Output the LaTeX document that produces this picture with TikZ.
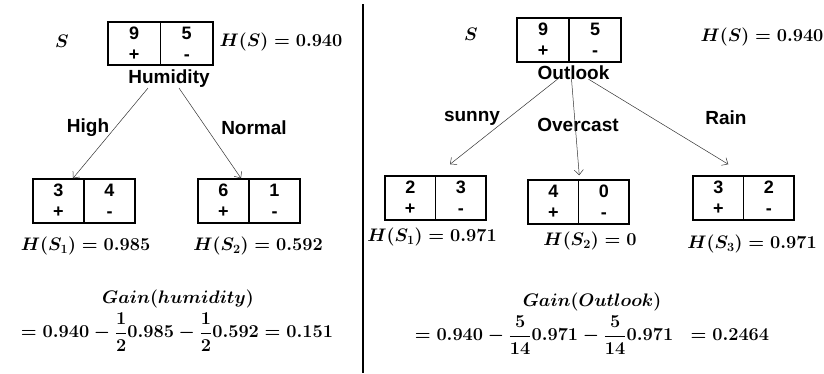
\documentclass[tikz,border=0pt]{standalone}
\usepackage{fontspec}
\usepackage{amsmath}
\usepackage{graphicx}
\newfontfamily\arialf{Liberation Sans}
\newcommand\mth[1]{\scalebox{1.05}{$#1$}}
\usetikzlibrary{arrows.meta}
\tikzset{
  cell/.style={draw, line width=1.5pt, minimum width=51pt, minimum height=44pt, inner sep=0pt, align=center,
    font=\arialf\bfseries\fontsize{18}{21}\selectfont},
  lab/.style={inner sep=0pt, font=\arialf\bfseries\fontsize{19}{21}\selectfont},
  eq/.style={inner sep=0pt, font=\fontsize{17.28}{21}\selectfont\boldmath},
  arr/.style={-{Straight Barb[length=5pt,width=9pt]}, line width=0.5pt, draw=black!80},
  sep/.style={line width=2pt}
}
\begin{document}
\begin{tikzpicture}[x=1pt,y=-1pt]
\useasboundingbox (0,0) rectangle (824,373);
% ---------- left panel ----------
\node[eq] (lS) at (62,41) {\mth{S}};
\node[cell, minimum width=52.5pt, minimum height=43pt] (l0p) at (134.25,43.5) {9\\+};
\node[cell, minimum width=52.5pt, minimum height=43pt] (l0m) at (186.75,43.5) {5\\-};
\node[eq] (lHS) at (281,42) {\mth{H(S)=0.940}};
\node[lab] (hum) at (169,79) {Humidity};
\node[cell] (l1p) at (58.5,201) {3\\+};
\node[cell] (l1m) at (109.5,201) {4\\-};
\node[cell] (l2p) at (223.5,201) {6\\+};
\node[cell] (l2m) at (274.5,201) {1\\-};
\node[lab] (high) at (88,128) {High};
\node[lab] (normal) at (254,128) {Normal};
\draw[arr] ([xshift=-21pt]hum.south) -- ([xshift=14.5pt]l1p.north);
\draw[arr] ([xshift=10pt]hum.south) -- ([xshift=17.5pt]l2p.north);
\node[eq] (lH1) at (85.5,246) {\mth{H(S_1)=0.985}};
\node[eq] (lH2) at (258,246) {\mth{H(S_2)=0.592}};
\node[eq] (lgain) at (178,299) {\mth{Gain(humidity)}};
\node[eq] (leq) at (177,332) {\mth{=0.940-\dfrac{1}{2}0.985-\dfrac{1}{2}0.592=0.151}};
% ---------- separator ----------
\coordinate (sa) at (363,4);
\coordinate (sb) at (363,373);
\draw[sep] (sa) -- (sb);
% ---------- right panel ----------
\node[eq] (rS) at (471,34) {\mth{S}};
\node[cell, minimum width=52pt] (r0p) at (543,40) {9\\+};
\node[cell, minimum width=52pt] (r0m) at (595,40) {5\\-};
\node[eq] (rHS) at (762,37) {\mth{H(S)=0.940}};
\node[lab] (out) at (573.5,73) {Outlook};
\node[cell, minimum width=50.5pt] (r1p) at (410.25,198) {2\\+};
\node[cell, minimum width=50.5pt] (r1m) at (460.75,198) {3\\-};
\node[cell, minimum width=50.5pt] (r2p) at (553.25,202) {4\\+};
\node[cell, minimum width=50.5pt] (r2m) at (603.75,202) {0\\-};
\node[cell, minimum width=50.5pt] (r3p) at (718.25,198) {3\\+};
\node[cell, minimum width=50.5pt] (r3m) at (768.75,198) {2\\-};
\node[lab] (sunny) at (472,118) {sunny};
\node[lab] (overcast) at (578,125) {Overcast};
\node[lab] (rain) at (726,118) {Rain};
\draw[arr] ([xshift=-16pt,yshift=1pt]out.south) -- ([xshift=-10.75pt,yshift=11pt]r1m.north);
\draw[arr] ([xshift=-2pt,yshift=1pt]out.south) -- ([yshift=4pt]r2p.north east);
\draw[arr] ([xshift=15pt,yshift=1pt]out.south) -- ([xshift=10pt,yshift=11pt]r3p.north);
\node[eq] (rH1) at (432,237) {\mth{H(S_1)=0.971}};
\node[eq] (rH2) at (590,241) {\mth{H(S_2)=0}};
\node[eq] (rH3) at (752,244) {\mth{H(S_3)=0.971}};
\node[eq] (rgain) at (592,302) {\mth{Gain(Outlook)}};
\node[eq] (req) at (592,335) {\mth{=0.940-\dfrac{5}{14}0.971-\dfrac{5}{14}0.971\;\;=0.2464}};
\end{tikzpicture}
\end{document}
